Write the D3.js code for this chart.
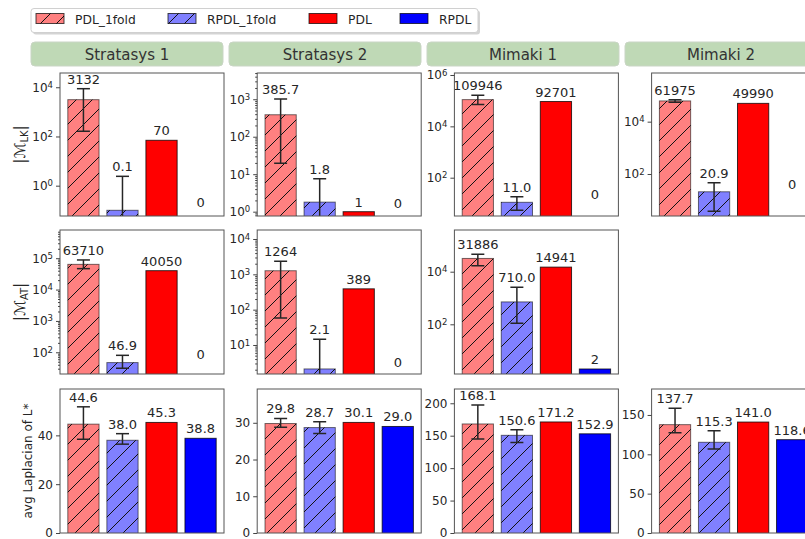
<!DOCTYPE html>
<html><head><meta charset="utf-8">
<script src="https://cdn.jsdelivr.net/npm/d3@7"></script>
<style>body{margin:0;background:#fff}svg{display:block;font-family:"DejaVu Sans",sans-serif}</style>
</head><body><svg id="c" width="805" height="539"></svg>
<script>
// ---------- data ----------
const groups = ["Stratasys 1", "Stratasys 2", "Mimaki 1", "Mimaki 2"];
const series = ["PDL_1fold", "RPDL_1fold", "PDL", "RPDL"];

// |M_LK|
const lkValues = [[3132, 0.1, 70, 0], [385.7, 1.8, 1, 0], [109946, 11.0, 92701, 0], [61975, 20.9, 49990, 0]];
const lkLabels = [["3132", "0.1", "70", "0"], ["385.7", "1.8", "1", "0"], ["109946", "11.0", "92701", "0"], ["61975", "20.9", "49990", "0"]];
const lkErrLow = [[163, 0], [19.5, 0], [71000, 5.4], [55000, 3.8]];
const lkErrHigh = [[8750, 2.4], [1012, 7.6], [162000, 18.3], [69000, 46]];
const lkYLim = [[0.0586, 38000], [0.767, 5012], [3.22, 1.197e6], [2.48, 7.24e5]];
const lkTicks = [[1, 100, 1e4], [1, 10, 100, 1000], [100, 1e4, 1e6], [100, 1e4]];
const lkZeroLabelAt = [0.083, 0.94, 9.4, 16.8];

// |M_AT|
const atValues = [[63710, 46.9, 40050, 0], [1264, 2.1, 389, 0], [31886, 710.0, 14941, 2]];
const atLabels = [["63710", "46.9", "40050", "0"], ["1264", "2.1", "389", "0"], ["31886", "710.0", "14941", "2"]];
const atErrLow = [[46500, 31], [58, 0], [16900, 109]];
const atErrHigh = [[88000, 80], [2335, 14.5], [46000, 2580]];
const atYLim = [[20.3, 7.94e5], [1.51, 17990], [1.29, 3.846e5]];
const atTicks = [[100, 1e3, 1e4, 1e5], [10, 100, 1e3, 1e4], [100, 1e4]];
const atZeroLabelAt = [41, 1.75, null];

// avg Laplacian of L*
const lapValues = [[44.6, 38.0, 45.3, 38.8], [29.8, 28.7, 30.1, 29.0], [168.1, 150.6, 171.2, 152.9], [137.7, 115.3, 141.0, 118.6]];
const lapLabels = [["44.6", "38.0", "45.3", "38.8"], ["29.8", "28.7", "30.1", "29.0"], ["168.1", "150.6", "171.2", "152.9"], ["137.7", "115.3", "141.0", "118.6"]];
const lapErrLow = [[38.4, 36.4], [28.8, 27.1], [145, 139.4], [127.4, 106.7]];
const lapErrHigh = [[51.7, 40.7], [31.2, 30.3], [197.4, 159], [158.5, 130]];
const lapYLim = [[0, 59], [0, 39.2], [0, 222], [0, 183]];
const lapTicks = [[0, 20, 40], [0, 10, 20, 30], [0, 50, 100, 150, 200], [0, 50, 100, 150]];

// ---------- style ----------
const fills = ["#ff8080", "#8080ff", "#ff0000", "#0000ff"];
const hatched = [true, true, false, false];
const textCol = "#262626";
const svg = d3.select("#c");
const defs = svg.append("defs");
const HP = 16;
const pat = defs.append("pattern").attr("id", "hatch").attr("patternUnits", "userSpaceOnUse")
  .attr("width", HP).attr("height", HP);
pat.append("path").attr("d", `M0,${HP} L${HP},0 M${-HP/2},${HP/2} L${HP/2},${-HP/2} M${HP/2},${HP*1.5} L${HP*1.5},${HP/2}`)
  .attr("stroke", "#111").attr("stroke-width", 1);

const colX0 = 60, colStep = 197.2, axW = 164;
const rowY = [[73, 216], [230, 374], [389, 533]];

function panel(ci, ri, cfg) {
  const x0 = colX0 + ci * colStep, x1 = x0 + axW;
  const [yt, yb] = rowY[ri];
  const xb = d3.scaleBand().domain(d3.range(series.length)).range([x0, x1]).paddingInner(0.2).paddingOuter(0.2);
  const y = (cfg.log ? d3.scaleLog() : d3.scaleLinear()).domain(cfg.lim).range([yb, yt]);
  const py = v => (v <= 0 && cfg.log) ? yb + 20 : y(v);
  const g = svg.append("g");
  const cid = `clip${ci}_${ri}`;
  defs.append("clipPath").attr("id", cid).append("rect").attr("x", x0).attr("y", yt).attr("width", axW).attr("height", yb - yt);
  const gc = g.append("g").attr("clip-path", `url(#${cid})`);

  cfg.values.forEach((v, i) => {
    if (v > 0) {
      const ty = py(v);
      gc.append("rect").attr("x", xb(i)).attr("y", ty).attr("width", xb.bandwidth()).attr("height", yb - ty + 2)
        .attr("fill", fills[i]);
      if (hatched[i]) gc.append("rect").attr("x", xb(i)).attr("y", ty).attr("width", xb.bandwidth()).attr("height", yb - ty + 2)
        .attr("fill", "url(#hatch)");
      gc.append("rect").attr("x", xb(i)).attr("y", ty).attr("width", xb.bandwidth()).attr("height", yb - ty + 2)
        .attr("fill", "none").attr("stroke", hatched[i] ? "rgba(0,0,0,0.55)" : "rgba(0,0,0,0.75)").attr("stroke-width", 1);
    }
  });
  // error bars
  cfg.errLo.forEach((lo, i) => {
    const hi = cfg.errHi[i];
    const cx = xb(i) + xb.bandwidth() / 2;
    const ylo = py(lo), yhi = py(hi);
    gc.append("line").attr("x1", cx).attr("x2", cx).attr("y1", ylo).attr("y2", yhi).attr("stroke", "#262626").attr("stroke-width", 1.5);
    [ylo, yhi].forEach(yy => {
      if (yy <= yb) gc.append("line").attr("x1", cx - 6.5).attr("x2", cx + 6.5).attr("y1", yy).attr("y2", yy)
        .attr("stroke", "#262626").attr("stroke-width", 1.5);
    });
  });
  // value labels
  cfg.values.forEach((v, i) => {
    let top;
    if (v > 0) {
      top = py(v);
      if (i < cfg.errHi.length) top = Math.min(top, py(cfg.errHi[i]));
    } else top = y(cfg.zeroAt);
    g.append("text").attr("x", xb(i) + xb.bandwidth() / 2).attr("y", top - 5).attr("text-anchor", "middle")
      .attr("font-size", 13).attr("fill", textCol).text(cfg.labels[i]);
  });
  // spines
  g.append("rect").attr("x", x0).attr("y", yt).attr("width", axW).attr("height", yb - yt)
    .attr("fill", "none").attr("stroke", "#555").attr("stroke-width", 1);
  // axis
  const ax = g.append("g").attr("transform", `translate(${x0},0)`)
    .call(d3.axisLeft(y).tickValues(cfg.ticks).tickSize(4).tickPadding(3).tickFormat(d => cfg.log ? "" : d3.format("d")(d)));
  ax.select(".domain").remove();
  ax.selectAll(".tick line").attr("stroke", "#444");
  ax.selectAll(".tick text").attr("font-size", 12).attr("fill", textCol).attr("font-family", "DejaVu Sans")
    .each(function (d) {
      if (!cfg.log) return;
      const t = d3.select(this);
      t.append("tspan").text("10");
      t.append("tspan").attr("dy", "-0.45em").attr("font-size", 8.5).text(Math.round(Math.log10(d)));
    });
  if (cfg.log) {
    const [a, b] = cfg.lim;
    const dec = Math.log10(b) - Math.log10(a);
    if (dec < 5) {
      const minors = [];
      for (let e = Math.floor(Math.log10(a)); e <= Math.ceil(Math.log10(b)); e++)
        for (let k = 2; k <= 9; k++) { const m = k * Math.pow(10, e); if (m >= a && m <= b) minors.push(m); }
      const mx = g.append("g").attr("transform", `translate(${x0},0)`)
        .call(d3.axisLeft(y).tickValues(minors).tickSize(2).tickFormat(""));
      mx.select(".domain").remove();
      mx.selectAll(".tick line").attr("stroke", "#444");
    }
  }
}

// headers
groups.forEach((name, i) => {
  const hx = 31 + i * 198;
  svg.append("rect").attr("x", hx).attr("y", 42).attr("width", 192).attr("height", 24).attr("rx", 4)
    .attr("fill", "#bfd9b6").attr("stroke", "#c9d5c5").attr("stroke-width", 1);
  svg.append("text").attr("x", hx + 96).attr("y", 59.5).attr("text-anchor", "middle").attr("font-size", 15)
    .attr("fill", "#333").text(name);
});

// panels
groups.forEach((_, ci) => {
  panel(ci, 0, { log: true, values: lkValues[ci], labels: lkLabels[ci], errLo: lkErrLow[ci], errHi: lkErrHigh[ci], lim: lkYLim[ci], ticks: lkTicks[ci], zeroAt: lkZeroLabelAt[ci] });
  if (ci < atValues.length)
    panel(ci, 1, { log: true, values: atValues[ci], labels: atLabels[ci], errLo: atErrLow[ci], errHi: atErrHigh[ci], lim: atYLim[ci], ticks: atTicks[ci], zeroAt: atZeroLabelAt[ci] });
  panel(ci, 2, { log: false, values: lapValues[ci], labels: lapLabels[ci], errLo: lapErrLow[ci], errHi: lapErrHigh[ci], lim: lapYLim[ci], ticks: lapTicks[ci] });
});

// y labels
function mathLabel(cx, cy, sub) {
  const t = svg.append("text").attr("transform", `translate(${cx},${cy}) rotate(-90)`).attr("text-anchor", "middle")
    .attr("font-size", 15).attr("fill", textCol);
  t.append("tspan").text("|ℳ");
  t.append("tspan").attr("dy", 3).attr("font-size", 10).text(sub);
  t.append("tspan").attr("dy", -3).text("|");
}
mathLabel(25, (rowY[0][0] + rowY[0][1]) / 2, "LK");
mathLabel(25, (rowY[1][0] + rowY[1][1]) / 2, "AT");
svg.append("text").attr("transform", `translate(32,${(rowY[2][0] + rowY[2][1]) / 2}) rotate(-90)`).attr("text-anchor", "middle")
  .attr("font-size", 12).attr("fill", textCol).text("avg Laplacian of L*");

// legend
const lg = svg.append("g");
lg.append("rect").attr("x", 33).attr("y", 10.5).attr("width", 447).attr("height", 24).attr("rx", 3).attr("fill", "#aaa").attr("opacity", 0.5);
lg.append("rect").attr("x", 31).attr("y", 8.5).attr("width", 447).attr("height", 24).attr("rx", 3).attr("fill", "#fff").attr("stroke", "#d0d0d0");
const legX = [36, 168, 309, 400];
series.forEach((s, i) => {
  lg.append("rect").attr("x", legX[i]).attr("y", 13.5).attr("width", 28).attr("height", 10).attr("fill", fills[i]);
  if (hatched[i]) lg.append("rect").attr("x", legX[i]).attr("y", 13.5).attr("width", 28).attr("height", 10).attr("fill", "url(#hatch)");
  lg.append("rect").attr("x", legX[i]).attr("y", 13.5).attr("width", 28).attr("height", 10).attr("fill", "none")
    .attr("stroke", "rgba(0,0,0,0.7)");
  lg.append("text").attr("x", legX[i] + 39).attr("y", 23.5).attr("font-size", 12.3).attr("fill", textCol).text(s);
});
</script></body></html>
